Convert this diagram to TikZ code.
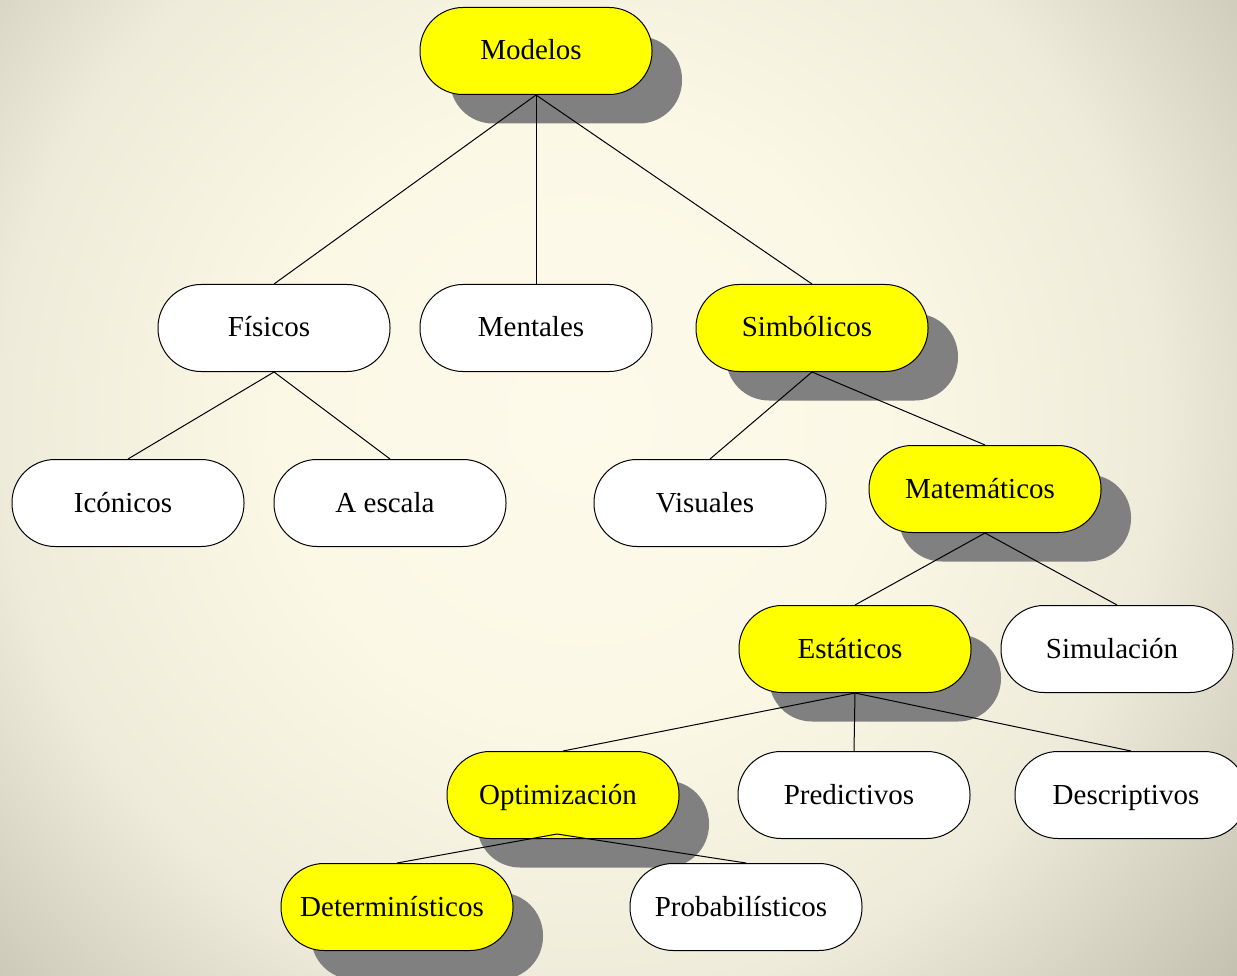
\documentclass[tikz,border=0pt]{standalone}
\usepackage{fontspec}
\setmainfont{Liberation Serif}
\usetikzlibrary{shadows}

% paper background tones, centre to rim
\definecolor{bgA}{HTML}{FEFAEB}
\definecolor{bgB}{HTML}{FCF8E6}
\definecolor{bgC}{HTML}{EEEBDA}
\definecolor{bgD}{HTML}{DAD6C6}
\definecolor{bgE}{HTML}{BFBBAA}
\definecolor{bgF}{HTML}{B4B09F}
\definecolor{shadowgray}{HTML}{808080}
\definecolor{hilite}{HTML}{FFFF00}

% the central 25bp radius is fitted to the shaded circle
\pgfdeclareradialshading{paper}{\pgfpoint{0bp}{0bp}}{%
  color(0bp)=(bgA); color(7.5bp)=(bgB); color(14.5bp)=(bgC);
  color(18bp)=(bgD); color(22.5bp)=(bgE); color(25bp)=(bgF);
  color(50bp)=(bgF)}

\tikzset{
  box/.style={draw=black, line width=1pt, rounded corners=43pt,
    minimum width=232pt, minimum height=87pt, inner sep=0pt,
    text height=24pt, text depth=6pt,
    execute at end node={\hspace*{10pt}},
    fill=white, font=\fontsize{29}{34}\selectfont},
  hot/.style={box, fill=hilite,
    drop shadow={shadow xshift=30pt, shadow yshift=-29pt,
      fill=shadowgray, opacity=1}},
  link/.style={draw=black, line width=1pt}
}

\begin{document}
\begin{tikzpicture}[x=1pt, y=1pt]
  \useasboundingbox (0,0) rectangle (1237,-976);
  \clip (0,0) rectangle (1237,-976);
  \shade[shading=paper] (580,-420) circle (1000);

  % tree nodes
  \node[hot] (mod) at (536,-51)  {Modelos};
  \node[box] (fis) at (274,-328) {Físicos};
  \node[box] (men) at (536,-328) {Mentales};
  \node[hot] (sim) at (812,-328) {Simbólicos};
  \node[box] (ico) at (128,-503) {Icónicos};
  \node[box] (esc) at (390,-503) {A escala};
  \node[box] (vis) at (710,-503) {Visuales};
  \node[hot] (mat) at (985,-489) {Matemáticos};
  \node[hot] (est) at (855,-649) {Estáticos};
  \node[box] (smu) at (1117,-649) {Simulación};
  \node[hot] (opt) at (563,-795) {Optimización};
  \node[box] (pre) at (854,-795) {Predictivos};
  \node[box] (des) at (1131,-795) {Descriptivos};
  \node[hot] (det) at (397,-907) {Determinísticos};
  \node[box] (pro) at (746,-907) {Probabilísticos};

  % connectors
  \draw[link] (mod.south) -- (fis.north);
  \draw[link] (mod.south) -- (men.north);
  \draw[link] (mod.south) -- (sim.north);
  \draw[link] (fis.south) -- (ico.north);
  \draw[link] (fis.south) -- (esc.north);
  \draw[link] (sim.south) -- (vis.north);
  \draw[link] (sim.south) -- (mat.north);
  \draw[link] (mat.south) -- (est.north);
  \draw[link] (mat.south) -- (smu.north);
  \draw[link] (est.south) -- (opt.north);
  \draw[link] (est.south) -- (pre.north);
  \draw[link] (est.south) -- (des.north);
  \coordinate (optfoot) at ([xshift=-6pt, yshift=5pt]opt.south);
  \draw[link] (optfoot) -- (det.north);
  \draw[link] (optfoot) -- (pro.north);
\end{tikzpicture}
\end{document}
